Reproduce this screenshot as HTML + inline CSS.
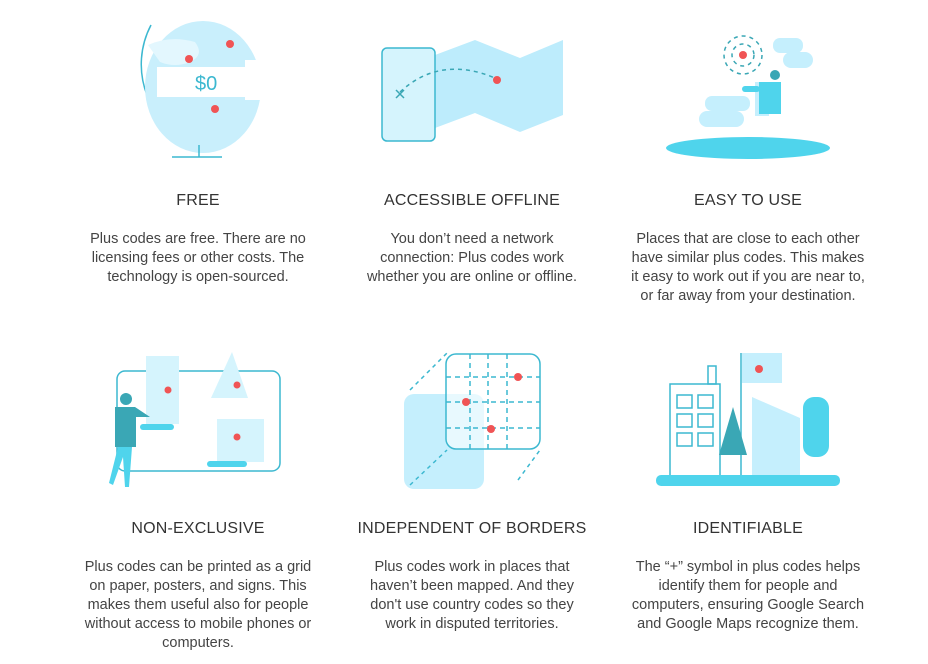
<!DOCTYPE html>
<html><head><meta charset="utf-8"><style>
body{margin:0;width:928px;height:664px;background:#fff;position:relative;overflow:hidden;font-family:"Liberation Sans",sans-serif;color:#444}
.h{position:absolute;width:320px;text-align:center;font-size:16px;color:#333;letter-spacing:0.2px}
.t{position:absolute;width:320px;text-align:center;font-size:14.5px;line-height:19px;color:#444}
svg{position:absolute;left:0;top:0}
</style></head><body>
<svg width="928" height="664" viewBox="0 0 928 664">
<!-- globe -->
<g>
<path d="M151 25 A85 85 0 0 0 199 145" fill="none" stroke="#3cb8d0" stroke-width="1.5"/>
<ellipse cx="203" cy="87" rx="58" ry="66" fill="#c9effc"/>
<path d="M148 45 Q170 35 195 42 Q205 55 190 62 Q175 68 160 62Z" fill="#e3f7fe"/>
<rect x="157" y="67" width="110" height="30" fill="#fff"/>
<rect x="245" y="60" width="30" height="40" fill="#fff"/>
<text x="195" y="90" font-size="20" fill="#3cb8d0" font-family="Liberation Sans">$0</text>
<circle cx="189" cy="59" r="4" fill="#f05455"/><circle cx="230" cy="44" r="4" fill="#f05455"/><circle cx="215" cy="109" r="4" fill="#f05455"/>
<line x1="199" y1="145" x2="199" y2="157" stroke="#3cb8d0" stroke-width="1.5"/>
<line x1="172" y1="157" x2="222" y2="157" stroke="#3cb8d0" stroke-width="1.5"/>
</g>
<!-- map -->
<g>
<polygon points="435,55 475,40 520,58 563,40 563,115 520,132 475,113 435,128" fill="#bdecfc"/>
<rect x="382" y="48" width="53" height="93" rx="5" fill="#d5f4fd" stroke="#3cb8d0" stroke-width="1.5"/>
<path d="M400 92 Q440 55 495 78" fill="none" stroke="#3aa7b5" stroke-width="1.5" stroke-dasharray="4 4"/>
<path d="M396 90 l8 8 M404 90 l-8 8" stroke="#3aa7b5" stroke-width="1.5"/>
<circle cx="497" cy="80" r="4" fill="#f05455"/>
</g>
<!-- easy -->
<g>
<circle cx="743" cy="55" r="19" fill="none" stroke="#3aa7b5" stroke-width="1.5" stroke-dasharray="4 4"/>
<circle cx="743" cy="55" r="11" fill="none" stroke="#3aa7b5" stroke-width="1.5" stroke-dasharray="4 4"/>
<circle cx="743" cy="55" r="4" fill="#f05455"/>
<rect x="773" y="38" width="30" height="15" rx="7" fill="#c5effd"/><rect x="783" y="52" width="30" height="16" rx="8" fill="#c5effd"/>
<rect x="705" y="96" width="45" height="15" rx="7" fill="#c5effd"/><rect x="699" y="111" width="45" height="16" rx="8" fill="#c5effd"/>
<ellipse cx="748" cy="148" rx="82" ry="11" fill="#4fd4ec"/>
<rect x="755" y="82" width="14" height="34" fill="#c5effd"/>
<path d="M759 82 h22 v32 h-22Z" fill="#4fd4ec"/>
<rect x="742" y="86" width="18" height="6" rx="3" fill="#4fd4ec"/>
<circle cx="775" cy="75" r="5" fill="#3aa7b5"/>
</g>
<!-- non-exclusive -->
<g>
<rect x="117" y="371" width="163" height="100" rx="8" fill="none" stroke="#3cb8d0" stroke-width="1.5"/>
<rect x="146" y="356" width="33" height="68" fill="#d5f4fd"/>
<rect x="140" y="424" width="34" height="6" rx="3" fill="#4fd4ec"/>
<polygon points="232,352 248,398 211,398" fill="#d5f4fd"/>
<rect x="217" y="419" width="47" height="43" fill="#d5f4fd"/>
<rect x="207" y="461" width="40" height="6" rx="3" fill="#4fd4ec"/>
<circle cx="168" cy="390" r="3.5" fill="#f05455"/><circle cx="237" cy="385" r="3.5" fill="#f05455"/><circle cx="237" cy="437" r="3.5" fill="#f05455"/>
<circle cx="126" cy="399" r="6" fill="#3aa7b5"/>
<path d="M115 407 h20 l15 10 h-14 v30 h-21Z" fill="#3aa7b5"/>
<path d="M118 447 h14 l-3 40 h-4 l-2-30 -10 28 -4-2Z" fill="#4fd4ec"/>
</g>
<!-- borders -->
<g>
<rect x="404" y="394" width="80" height="95" rx="10" fill="#c5effd"/>
<line x1="410" y1="390" x2="447" y2="353" stroke="#3cb8d0" stroke-width="1.5" stroke-dasharray="4 4"/>
<line x1="410" y1="485" x2="447" y2="450" stroke="#3cb8d0" stroke-width="1.5" stroke-dasharray="4 4"/>
<line x1="518" y1="480" x2="540" y2="450" stroke="#3cb8d0" stroke-width="1.5" stroke-dasharray="4 4"/>
<rect x="446" y="354" width="94" height="95" rx="10" fill="rgba(255,255,255,0.6)" stroke="#3cb8d0" stroke-width="1.5"/>
<g stroke="#3cb8d0" stroke-width="1.5" stroke-dasharray="5 4">
<line x1="446" y1="377" x2="540" y2="377"/><line x1="446" y1="402" x2="540" y2="402"/><line x1="446" y1="428" x2="540" y2="428"/>
<line x1="470" y1="354" x2="470" y2="449"/><line x1="488" y1="354" x2="488" y2="449"/><line x1="507" y1="354" x2="507" y2="449"/>
</g>
<circle cx="518" cy="377" r="4" fill="#f05455"/><circle cx="466" cy="402" r="4" fill="#f05455"/><circle cx="491" cy="429" r="4" fill="#f05455"/>
</g>
<!-- identifiable -->
<g>
<rect x="742" y="353" width="40" height="30" fill="#c5effd"/>
<line x1="741" y1="353" x2="741" y2="475" stroke="#3cb8d0" stroke-width="1.5"/>
<circle cx="759" cy="369" r="4" fill="#f05455"/>
<rect x="708" y="366" width="8" height="18" fill="none" stroke="#3cb8d0" stroke-width="1.5"/>
<rect x="670" y="384" width="50" height="92" fill="none" stroke="#3cb8d0" stroke-width="1.5"/>
<g fill="none" stroke="#3cb8d0" stroke-width="1.5">
<rect x="677" y="395" width="15" height="13"/><rect x="698" y="395" width="15" height="13"/>
<rect x="677" y="414" width="15" height="13"/><rect x="698" y="414" width="15" height="13"/>
<rect x="677" y="433" width="15" height="13"/><rect x="698" y="433" width="15" height="13"/>
</g>
<polygon points="752,397 800,418 800,476 752,476" fill="#c5effd"/>
<polygon points="733,407 747,455 719,455" fill="#3aa7b5"/>
<rect x="803" y="397" width="26" height="60" rx="11" fill="#4fd4ec"/>
<rect x="656" y="475" width="184" height="11" rx="5" fill="#4fd4ec"/>
</g>
</svg>
<div class="h" style="left:38px;top:192px">FREE</div>
<div class="t" style="left:38px;top:230px">Plus codes are free. There are no<br>licensing fees or other costs. The<br>technology is open-sourced.</div>
<div class="h" style="left:312px;top:192px">ACCESSIBLE OFFLINE</div>
<div class="t" style="left:312px;top:230px">You don’t need a network<br>connection: Plus codes work<br>whether you are online or offline.</div>
<div class="h" style="left:588px;top:192px">EASY TO USE</div>
<div class="t" style="left:588px;top:230px">Places that are close to each other<br>have similar plus codes. This makes<br>it easy to work out if you are near to,<br>or far away from your destination.</div>
<div class="h" style="left:38px;top:520px">NON-EXCLUSIVE</div>
<div class="t" style="left:38px;top:558px">Plus codes can be printed as a grid<br>on paper, posters, and signs. This<br>makes them useful also for people<br>without access to mobile phones or<br>computers.</div>
<div class="h" style="left:312px;top:520px">INDEPENDENT OF BORDERS</div>
<div class="t" style="left:312px;top:558px">Plus codes work in places that<br>haven’t been mapped. And they<br>don't use country codes so they<br>work in disputed territories.</div>
<div class="h" style="left:588px;top:520px">IDENTIFIABLE</div>
<div class="t" style="left:588px;top:558px">The “+” symbol in plus codes helps<br>identify them for people and<br>computers, ensuring Google Search<br>and Google Maps recognize them.</div>
</body></html>
